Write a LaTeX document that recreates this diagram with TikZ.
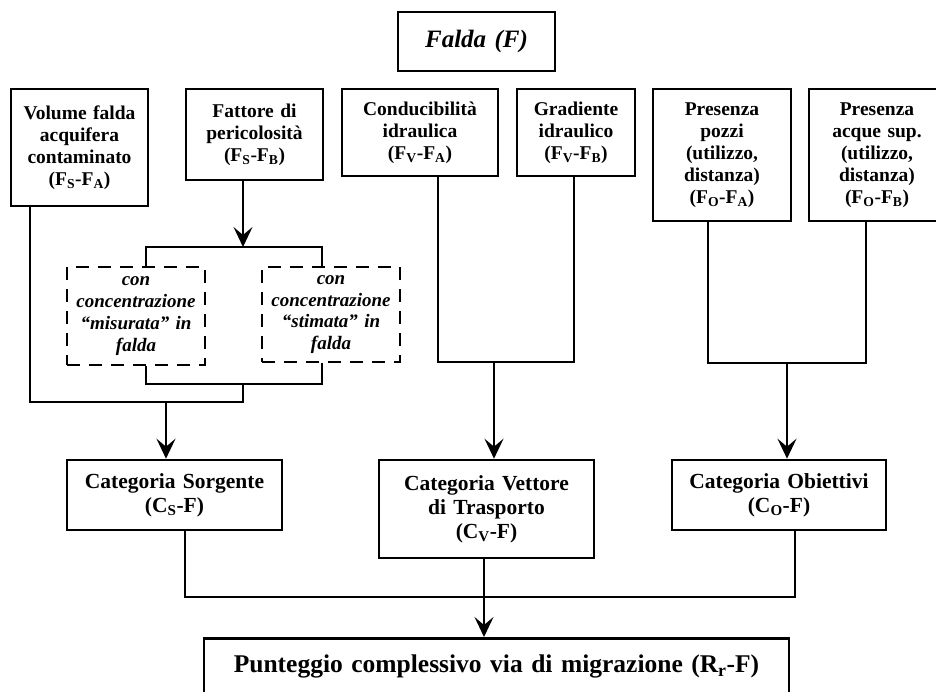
\documentclass[tikz,border=0pt]{standalone}
\usepackage{fontspec}
\setmainfont{Liberation Serif}
\usetikzlibrary{arrows.meta}

\newcommand{\ix}[1]{\textsubscript{#1}}

\begin{document}
\begin{tikzpicture}[x=1pt, y=-1pt,
    box/.style={draw, line width=2.6pt, align=center, inner sep=0pt,
      font=\fontsize{19.5}{22}\selectfont\bfseries},
    dbox/.style={box, line width=2.4pt, dash pattern=on 13pt off 9pt,
      font=\fontsize{19}{21.7}\selectfont\bfseries\itshape},
    cat/.style={box, font=\fontsize{21.5}{24}\selectfont\bfseries},
    link/.style={line width=1.6pt},
    arr/.style={link, -{Stealth[length=20pt, width=19pt, inset=8pt]}}]
    \useasboundingbox (0,0) rectangle (936,691);
    \clip (0,0) rectangle (936,691);
    \node[box, text width=157pt, minimum height=59pt,
      font=\fontsize{25}{30}\selectfont\bfseries\itshape] (falda) at (476.5,41.5) {Falda (F)};
    \node[box, text width=137pt, minimum height=117pt] (vol) at (79.5,147.5) {Volume falda\\acquifera\\contaminato\\(F\ix{S}-F\ix{A})};
    \node[box, text width=137pt, minimum height=91pt] (fat) at (254.5,134.5) {Fattore di\\pericolosità\\(F\ix{S}-F\ix{B})};
    \node[box, text width=156pt, minimum height=87pt] (cond) at (420,132.5) {Conducibilità\\idraulica\\(F\ix{V}-F\ix{A})};
    \node[box, text width=118pt, minimum height=87pt] (grad) at (576,132.5) {Gradiente\\idraulico\\(F\ix{V}-F\ix{B})};
    \node[box, text width=138pt, minimum height=132pt] (poz) at (722,155) {Presenza\\pozzi\\(utilizzo,\\distanza)\\(F\ix{O}-F\ix{A})};
    \node[box, text width=136pt, minimum height=132pt] (acq) at (877,155) {Presenza\\acque sup.\\(utilizzo,\\distanza)\\(F\ix{O}-F\ix{B})};
    \node[dbox, text width=138pt, minimum height=98pt] (mis) at (136,316) {con\\concentrazione\\“misurata” in\\falda};
    \node[dbox, text width=138pt, minimum height=95pt] (sti) at (331,314.5) {con\\concentrazione\\“stimata” in\\falda};
    \node[cat, text width=215pt, minimum height=70pt] (src) at (174.5,495) {Categoria Sorgente\\(C\ix{S}-F)};
    \node[cat, text width=215pt, minimum height=98pt] (vet) at (486.5,509) {Categoria Vettore\\di Trasporto\\(C\ix{V}-F)};
    \node[cat, text width=214pt, minimum height=70pt] (obi) at (779,495) {Categoria Obiettivi\\(C\ix{O}-F)};
    \node[box, anchor=north, text width=585pt, text height=34pt, text depth=40pt,
      font=\fontsize{25.5}{30}\selectfont\bfseries] (pun) at (496.5,637) {Punteggio complessivo via di migrazione (R\ix{r}-F)};
    % junctions
    \coordinate (fatJ) at (243,247);
    \coordinate (dshJ) at (243,384);
    \coordinate (srcJ) at (166,402);
    \coordinate (vetJ) at (494,362);
    \coordinate (obiJ) at (787,363);
    \coordinate (punJ) at (484,597);
    % sorgente
    \draw[arr] (fat.south -| fatJ) -- (fatJ);
    \draw[link] ([xshift=10pt]mis.north) |- (fatJ) -| ([xshift=-9pt]sti.north);
    \draw[link] ([xshift=10pt]mis.south) |- (dshJ) -| ([xshift=-9pt]sti.south);
    \draw[link] ([xshift=-49.5pt]vol.south) |- (srcJ) -| (dshJ);
    \draw[arr] (srcJ) -- (src.north -| srcJ);
    % vettore
    \draw[link] ([xshift=18pt]cond.south) |- (vetJ) -| ([xshift=-2pt]grad.south);
    \draw[arr] (vetJ) -- (vet.north -| vetJ);
    % obiettivi
    \draw[link] ([xshift=-14pt]poz.south) |- (obiJ) -| ([xshift=-11pt]acq.south);
    \draw[arr] (obiJ) -- (obi.north -| obiJ);
    % punteggio
    \draw[link] ([xshift=10.5pt]src.south) |- (punJ) -| ([xshift=16pt]obi.south);
    \draw[arr] (vet.south -| punJ) -- (pun.north -| punJ);
\end{tikzpicture}
\end{document}
